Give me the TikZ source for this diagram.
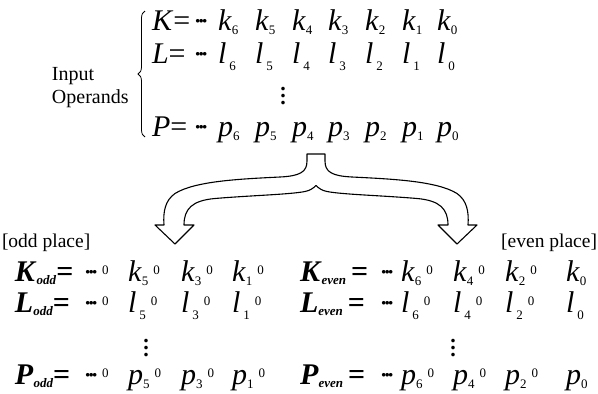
\documentclass[tikz,border=0pt]{standalone}
\usepackage{fontspec}
\setmainfont{Liberation Serif}
\usetikzlibrary{decorations.pathreplacing}
\newcommand\bigf{\fontsize{30}{30}\selectfont}
\newcommand\subk[1]{{\fontsize{13}{13}\selectfont\raisebox{-4pt}{#1}}}
\newcommand\subl[1]{\kern3pt{\fontsize{13}{13}\selectfont\raisebox{-7pt}{#1}}}
\newcommand\zr{{\fontsize{13}{13}\selectfont\raisebox{7pt}{0}}}
\newcommand\dts{{\fontsize{22}{22}\selectfont\bfseries\raisebox{2pt}{·\kern-3.8pt·\kern-3.8pt·}}}
\newcommand\vdt{\vbox{\offinterlineskip\hbox{.}\kern3.5pt\hbox{.}\kern3.5pt\hbox{.}}}
\newcommand\capsub[2]{\textbf{\textit{#1}}\raisebox{-3pt}{\fontsize{13}{13}\selectfont\textbf{\textit{#2}}}}
\begin{document}
\begin{tikzpicture}[x=1pt,y=-1pt,
  tok/.style={anchor=base west,inner sep=0pt,outer sep=0pt,font=\bigf},
  lbl/.style={anchor=base west,inner sep=0pt,outer sep=0pt,font=\fontsize{20}{20}\selectfont},
  vd/.style={inner sep=0pt,outer sep=0pt,font=\fontsize{22}{22}\selectfont\bfseries},
  bigarrow/.style={draw=black,fill=white,line width=1.1pt,line join=round}]
\useasboundingbox (0,0) rectangle (598,394);
% input operands
\node[lbl] (inp) at (52,80) {Input};
\node[lbl] (opr) at (52,103) {Operands};
\draw[line width=0.8pt,decorate,decoration={brace,amplitude=7pt}] (145,137) -- (145,11);
% top rows
\node[tok] (K) at (152,30) {\textit{K}=};
\node[tok] (L) at (152,63) {\textit{L}=};
\node[tok] (P) at (152,136) {\textit{P}=};
\node[tok] (Kd) at (194,30) {\dts};
\node[tok] (Ld) at (194,63) {\dts};
\node[tok] (Pd) at (194,136) {\dts};
\foreach \i/\x in {6/218,5/255,4/292,3/328,2/365,1/402,0/437} {
  \node[tok] (k\i) at (\x,30) {\textit{k}\subk{\i}};
  \node[tok] (l\i) at (\x,63) {\textit{l}\subl{\i}};
  \node[tok] (p\i) at (\x,136) {\textit{p}\subk{\i}};
}
\node[vd] (vt) at (283,96) {\vdt};
% split arrow
\path[bigarrow] (307,154) -- (307,161)
  .. controls (307,172) and (300,176) .. (280,177)
  .. controls (240,179) and (195,181) .. (175,193.5)
  .. controls (165,200.5) and (163,212) .. (164,225)
  -- (155,225) -- (175,244) -- (194,225) -- (184,225)
  .. controls (184,209) and (192,200.5) .. (215,198.5)
  .. controls (250,195.5) and (290,194.5) .. (305,191.5)
  .. controls (310,190.5) and (313,188.5) .. (316,185.5)
  .. controls (319,188.5) and (322,190.5) .. (327,191.5)
  .. controls (342,194.5) and (382,195.5) .. (417,198.5)
  .. controls (440,200.5) and (448,209) .. (448,225)
  -- (438,225) -- (457,244) -- (477,225) -- (468,225)
  .. controls (469,212) and (467,200.5) .. (457,193.5)
  .. controls (437,181) and (392,179) .. (352,177)
  .. controls (332,176) and (325,172) .. (325,161)
  -- (325,154) -- cycle;
% labels
\node[lbl,font=\fontsize{19.5}{20}\selectfont] (odd) at (2,247) {[odd place]};
\node[lbl,font=\fontsize{19.5}{20}\selectfont,anchor=base east] (even) at (597,247) {[even place]};
% odd rows
\node[tok] (Ko) at (15,281) {\capsub{K}{odd}\textbf{=}};
\node[tok] (Lo) at (15,312) {\capsub{L}{odd}\textbf{=}};
\node[tok] (Po) at (15,384) {\capsub{P}{odd}\textbf{=}};
\foreach \r/\y in {Ko/281,Lo/312,Po/384} {
  \node[tok] (\r d) at (84,\y) {\dts};
  \node[tok] (\r z) at (102,\y) {\zr};
}
\foreach \i/\x in {5/128,3/181,1/232} {
  \node[tok] (ko\i) at (\x,281) {\textit{k}\subk{\i}\kern5pt\zr};
  \node[tok] (lo\i) at (\x,312) {\textit{l}\subl{\i}\kern5pt\zr};
  \node[tok] (po\i) at (\x,384) {\textit{p}\subk{\i}\kern5pt\zr};
}
\node[vd] (vo) at (146,348) {\vdt};
% even rows
\node[tok] (Ke) at (300,281) {\capsub{K}{even}\,\textbf{=}};
\node[tok] (Le) at (300,312) {\capsub{L}{even}\,\textbf{=}};
\node[tok] (Pe) at (300,384) {\capsub{P}{even}\,\textbf{=}};
\foreach \r/\y in {Ke/281,Le/312,Pe/384} {
  \node[tok] (\r d) at (380,\y) {\dts};
}
\foreach \i/\x in {6/401,4/453,2/505} {
  \node[tok] (ke\i) at (\x,281) {\textit{k}\subk{\i}\kern5pt\zr};
  \node[tok] (le\i) at (\x,312) {\textit{l}\subl{\i}\kern5pt\zr};
  \node[tok] (pe\i) at (\x,384) {\textit{p}\subk{\i}\kern5pt\zr};
}
\node[tok] (ke0) at (566,281) {\textit{k}\subk{0}};
\node[tok] (le0) at (566,312) {\textit{l}\subl{0}};
\node[tok] (pe0) at (566,384) {\textit{p}\subk{0}};
\node[vd] (ve) at (453,348) {\vdt};
\end{tikzpicture}
\end{document}
